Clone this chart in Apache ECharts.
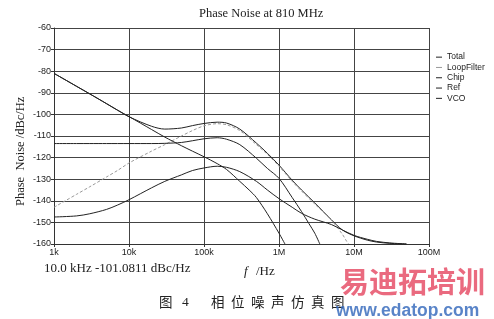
<!DOCTYPE html>
<html><head><meta charset="utf-8">
<script src="https://cdn.jsdelivr.net/npm/echarts@6/dist/echarts.min.js"></script>
<style>html,body{margin:0;padding:0;background:#fff}#c{width:494px;height:319px}</style>
</head><body><div id="c"></div>
<script>
// ---- data ----
const xTickLabels = {1e3:'1k',1e4:'10k',1e5:'100k',1e6:'1M',1e7:'10M',1e8:'100M'};
const seriesNames = ['Total','LoopFilter','Chip','Ref','VCO'];

const totalFreq = [1e3,2e3,3e3,5e3,7e3,1e4,2e4,3e4,5e4,7e4,1e5,1.5e5,2e5,3e5,5e5,7e5,1e6,1.5e6,2e6,3e6,5e6,7e6,1e7,1.5e7,2e7,3e7,5e7];
const totalVals = [-81,-87,-90.5,-95,-98,-101.1,-105.5,-106.8,-106.3,-105.2,-104.2,-103.6,-104,-106.8,-113.3,-118,-123.5,-130.5,-135,-141,-148.8,-153.5,-156.2,-158.2,-159.1,-159.7,-160];

const loopFreq = [1e3,2e3,3e3,5e3,7e3,1e4,2e4,3e4,5e4,7e4,1e5,1.5e5,2e5,3e5,5e5,7e5,1e6,1.5e6,2e6,3e6,5e6,7e6,8e6,8.5e6];
const loopVals = [-143,-137,-133.5,-129,-126,-122.5,-117,-114,-110,-107.5,-105.3,-104.3,-104.8,-107.5,-114,-118.5,-124,-131,-135.5,-141.5,-149,-155.5,-158.8,-160];

const chipFreq = [1e3,2e3,3e3,5e3,7e3,1e4,2e4,3e4,5e4,7e4,1e5,1.5e5,2e5,3e5,5e5,7e5,1e6,1.5e6,2e6,2.5e6,3e6,3.5e6];
const chipVals = [-113.5,-113.5,-113.5,-113.5,-113.5,-113.5,-113.5,-113.4,-113,-112.2,-111.3,-110.8,-111.5,-114,-120.3,-125,-129.6,-138.5,-145,-150.5,-155,-160];

const refFreq = [1e3,2e3,3e3,5e3,7e3,1e4,2e4,3e4,5e4,7e4,1e5,1.5e5,2e5,3e5,5e5,7e5,1e6,1.5e6,2e6,3e6,5e6,7e6,1e7,1.5e7,2e7,3e7,5e7];
const refVals = [-147.5,-147,-146,-144,-142,-139.5,-134,-131,-128,-126,-124.8,-124,-124.5,-126.5,-131,-135,-139,-143,-145.8,-148.5,-151,-153.5,-156,-157.8,-158.8,-159.5,-160];

const vcoFreq = [1e3,2e3,3e3,5e3,7e3,1e4,2e4,3e4,5e4,7e4,1e5,1.5e5,2e5,3e5,4e5,5e5,7e5,1e6,1.2e6];
const vcoVals = [-81,-87,-90.5,-95,-98,-101,-107,-110.5,-114.5,-117,-119.6,-122.8,-125.5,-131,-135,-138.5,-146,-155,-160];

const titleText = 'Phase Noise at 810 MHz';
const yName = 'Phase  Noise /dBc/Hz';
const cursorText = '10.0 kHz -101.0811 dBc/Hz';
const captionLead = ['图', '4'];
const captionChars = ['相','位','噪','声','仿','真','图'];

// ---- build ----
const zip = (f, v) => f.map((x, i) => [x, v[i]]);
const chart = echarts.init(document.getElementById('c'), null, {renderer: 'canvas'});
const mk = (name, f, v, color, type) => ({
  name, type: 'line', data: zip(f, v), smooth: 0.3, showSymbol: false, symbol: 'none',
  lineStyle: {color, width: 1, type: type || 'solid'}, itemStyle: {color}, z: 3
});
const serif = 'Liberation Serif';
const sans = 'Liberation Sans';
const cjk = '"Noto Sans CJK SC"';
const graphics = [
  {type: 'text', left: 199, top: 7, style: {text: titleText, font: '12.5px ' + serif, fill: '#222'}},
  {type: 'text', x: 14, y: 206, rotation: Math.PI / 2, style: {text: yName, font: '12.5px ' + serif, fill: '#222'}},
  {type: 'text', left: 44, top: 262, style: {text: cursorText, font: '13px ' + serif, fill: '#222'}},
  {type: 'text', left: 244, top: 265, style: {text: 'f', font: 'italic 13px ' + serif, fill: '#222'}},
  {type: 'text', left: 256, top: 265, style: {text: '/Hz', font: '13px ' + serif, fill: '#222'}},
  {type: 'text', left: 159, top: 295, style: {text: captionLead[0], font: '13.5px ' + cjk, fill: '#222'}},
  {type: 'text', left: 182, top: 295, style: {text: captionLead[1], font: '13.5px ' + serif, fill: '#222'}},
  {type: 'text', left: 340, top: 267, style: {text: '易迪拓培训', font: 'bold 29px ' + cjk, fill: 'rgba(230,80,105,0.85)'}, z: 10},
  {type: 'text', left: 336, top: 302, style: {text: 'www.edatop.com', font: 'bold 17.5px ' + sans, fill: 'rgba(60,110,190,0.85)'}, z: 10}
];
captionChars.forEach((ch, i) => graphics.push({type: 'text', left: 211 + i * 20, top: 295, style: {text: ch, font: '13.5px ' + cjk, fill: '#222'}}));

chart.setOption({
  animation: false,
  backgroundColor: '#fff',
  grid: {left: 54, right: 65, top: 28, bottom: 75, containLabel: false},
  legend: {
    orient: 'vertical', left: 431, top: 47, itemWidth: 6, itemHeight: 1, itemGap: 0, icon: 'rect',
    textStyle: {fontFamily: sans, fontSize: 8.5, color: '#222', lineHeight: 10.3},
    data: seriesNames
  },
  xAxis: {
    type: 'log', logBase: 10, min: 1e3, max: 1e8,
    axisLine: {show: true, lineStyle: {color: '#333'}},
    axisTick: {show: true, length: 3, lineStyle: {color: '#333'}},
    axisLabel: {formatter: v => xTickLabels[Math.round(v)] || '', fontFamily: sans, fontSize: 9, color: '#222', margin: 4},
    splitLine: {show: true, lineStyle: {color: '#444', width: 1}},
    minorTick: {show: false}
  },
  yAxis: {
    type: 'value', min: -160, max: -60, interval: 10,
    axisLine: {show: true, lineStyle: {color: '#333'}},
    axisTick: {show: true, length: 3, lineStyle: {color: '#333'}},
    axisLabel: {fontFamily: sans, fontSize: 9, color: '#222', margin: 3},
    splitLine: {show: true, lineStyle: {color: '#444', width: 1}}
  },
  series: [
    mk('Total', totalFreq, totalVals, '#222'),
    mk('LoopFilter', loopFreq, loopVals, '#999', [3, 2]),
    mk('Chip', chipFreq, chipVals, '#222'),
    mk('Ref', refFreq, refVals, '#222'),
    mk('VCO', vcoFreq, vcoVals, '#222')
  ],
  graphic: graphics
});
</script></body></html>
